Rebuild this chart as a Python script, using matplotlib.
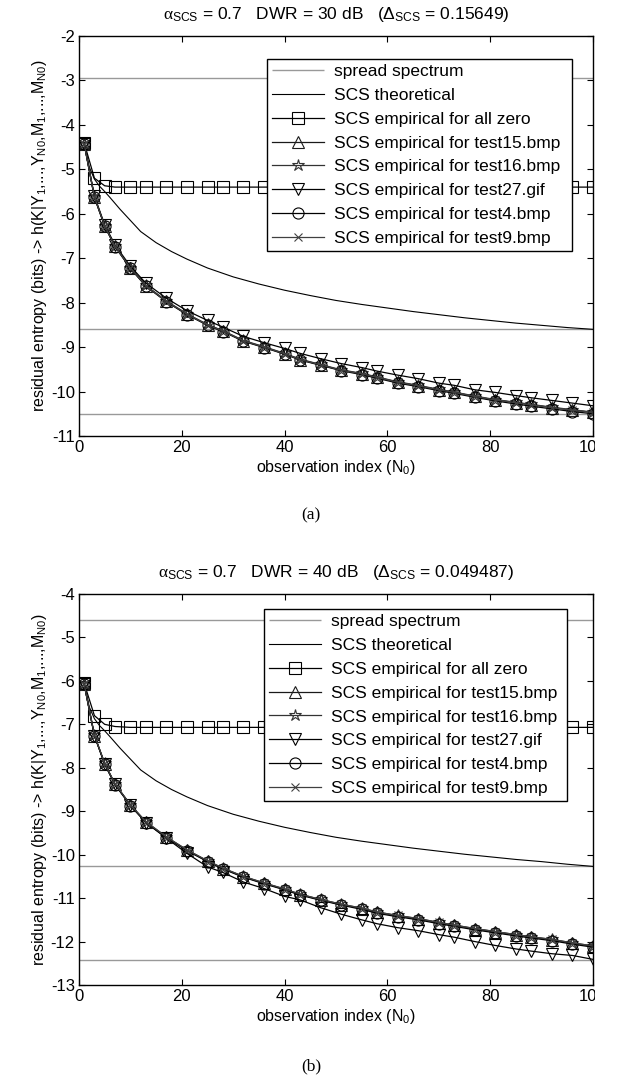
import matplotlib
matplotlib.use("Agg")
import matplotlib.pyplot as plt
from matplotlib.patches import Rectangle

plt.rcParams['font.family'] = ['Liberation Sans', 'DejaVu Sans']
plt.rcParams['mathtext.fontset'] = 'custom'
plt.rcParams['mathtext.rm'] = 'Liberation Sans'
plt.rcParams['mathtext.it'] = 'Liberation Serif'
plt.rcParams['mathtext.bf'] = 'Liberation Sans:bold'
plt.rcParams['axes.unicode_minus'] = False

# ---------------- data ----------------
N_emp = [1, 3, 5, 7, 10, 13, 17, 21, 25, 28, 32, 36, 40, 43, 47, 51, 55, 58,
         62, 66, 70, 73, 77, 81, 85, 88, 92, 96, 100]
N_theo = [1, 2, 3, 4, 5, 6, 8, 10, 12, 15, 18, 21, 25, 30, 35, 40, 45, 50,
          55, 60, 65, 70, 75, 80, 85, 90, 95, 100]
N_line = [0, 100]

# panel (a): DWR = 30 dB
a_spread_levels = [-2.95, -8.60, -10.50]
a_theo = [-4.40, -4.95, -5.22, -5.38, -5.50, -5.63, -5.90, -6.15, -6.40, -6.65,
          -6.85, -7.02, -7.22, -7.42, -7.58, -7.72, -7.84, -7.95, -8.04, -8.12,
          -8.20, -8.27, -8.34, -8.40, -8.46, -8.51, -8.56, -8.60]
a_zero = [-4.40, -5.20, -5.37, -5.40, -5.40, -5.40, -5.40, -5.40, -5.40, -5.40,
          -5.40, -5.40, -5.40, -5.40, -5.40, -5.40, -5.40, -5.40, -5.40, -5.40,
          -5.40, -5.40, -5.40, -5.40, -5.40, -5.40, -5.40, -5.40, -5.40]
a_test15 = [-4.42, -5.63, -6.28, -6.73, -7.22, -7.62, -7.97, -8.26, -8.50, -8.64,
            -8.86, -9.00, -9.15, -9.28, -9.40, -9.52, -9.60, -9.68, -9.79, -9.87,
            -9.96, -10.02, -10.11, -10.19, -10.25, -10.30, -10.36, -10.42, -10.47]
a_test16 = [-4.42, -5.62, -6.27, -6.72, -7.21, -7.61, -7.96, -8.25, -8.49, -8.63,
            -8.85, -8.99, -9.14, -9.27, -9.39, -9.51, -9.59, -9.67, -9.78, -9.86,
            -9.95, -10.01, -10.10, -10.18, -10.24, -10.29, -10.35, -10.41, -10.46]
a_test27 = [-4.42, -5.60, -6.25, -6.70, -7.18, -7.56, -7.90, -8.18, -8.40, -8.55,
            -8.76, -8.90, -9.03, -9.14, -9.26, -9.37, -9.46, -9.54, -9.63, -9.71,
            -9.81, -9.86, -9.96, -10.02, -10.09, -10.14, -10.20, -10.26, -10.32]
a_test4 = [-4.42, -5.63, -6.28, -6.74, -7.23, -7.63, -7.98, -8.27, -8.51, -8.65,
           -8.87, -9.01, -9.16, -9.29, -9.41, -9.53, -9.62, -9.70, -9.81, -9.89,
           -9.98, -10.04, -10.13, -10.21, -10.28, -10.33, -10.39, -10.45, -10.50]
a_test9 = [-4.42, -5.62, -6.27, -6.73, -7.22, -7.62, -7.97, -8.26, -8.50, -8.64,
           -8.86, -9.00, -9.15, -9.28, -9.40, -9.52, -9.60, -9.68, -9.79, -9.87,
           -9.96, -10.02, -10.11, -10.19, -10.25, -10.30, -10.36, -10.42, -10.47]

# panel (b): DWR = 40 dB
b_spread_levels = [-4.60, -10.27, -12.42]
b_theo = [-6.05, -6.60, -6.87, -7.03, -7.15, -7.28, -7.55, -7.80, -8.05, -8.30,
          -8.50, -8.67, -8.87, -9.07, -9.23, -9.37, -9.49, -9.60, -9.69, -9.77,
          -9.85, -9.92, -9.99, -10.05, -10.11, -10.16, -10.22, -10.27]
b_zero = [-6.05, -6.80, -7.00, -7.05, -7.07, -7.07, -7.07, -7.07, -7.07, -7.07,
          -7.07, -7.07, -7.07, -7.07, -7.07, -7.07, -7.07, -7.07, -7.07, -7.07,
          -7.07, -7.07, -7.07, -7.07, -7.07, -7.07, -7.07, -7.07, -7.07]
b_test15 = [-6.07, -7.26, -7.91, -8.38, -8.86, -9.25, -9.60, -9.90, -10.15, -10.32,
            -10.51, -10.66, -10.80, -10.92, -11.04, -11.15, -11.24, -11.33, -11.41, -11.48,
            -11.57, -11.63, -11.71, -11.78, -11.85, -11.90, -11.96, -12.04, -12.11]
b_test16 = [-6.07, -7.25, -7.90, -8.37, -8.85, -9.24, -9.59, -9.89, -10.14, -10.31,
            -10.50, -10.65, -10.79, -10.91, -11.03, -11.14, -11.23, -11.32, -11.40, -11.47,
            -11.56, -11.62, -11.70, -11.77, -11.84, -11.89, -11.95, -12.03, -12.10]
b_test27 = [-6.07, -7.26, -7.91, -8.38, -8.86, -9.26, -9.62, -9.97, -10.28, -10.41,
            -10.63, -10.78, -10.96, -11.04, -11.22, -11.37, -11.50, -11.59, -11.68, -11.75,
            -11.84, -11.90, -12.00, -12.09, -12.17, -12.22, -12.28, -12.32, -12.41]
b_test4 = [-6.07, -7.26, -7.92, -8.39, -8.87, -9.26, -9.61, -9.91, -10.16, -10.33,
           -10.52, -10.67, -10.81, -10.93, -11.05, -11.16, -11.26, -11.35, -11.43, -11.50,
           -11.59, -11.65, -11.73, -11.80, -11.87, -11.92, -11.98, -12.06, -12.13]
b_test9 = [-6.07, -7.25, -7.90, -8.37, -8.85, -9.24, -9.59, -9.89, -10.14, -10.31,
           -10.50, -10.65, -10.79, -10.91, -11.03, -11.14, -11.23, -11.32, -11.40, -11.47,
           -11.56, -11.62, -11.70, -11.77, -11.84, -11.89, -11.95, -12.03, -12.10]

labels = ['spread spectrum', 'SCS theoretical', 'SCS empirical for all zero',
          'SCS empirical for test15.bmp', 'SCS empirical for test16.bmp',
          'SCS empirical for test27.gif', 'SCS empirical for test4.bmp',
          'SCS empirical for test9.bmp']
markers = ['s', '^', '*', 'v', 'o', 'x']

x_ticks = [0, 20, 40, 60, 80, 100]
a_yticks = list(range(-11, -1))
b_yticks = list(range(-13, -3))

titles = [r'$\alpha_{\mathrm{SCS}}$ = 0.7   DWR = 30 dB   ($\Delta_{\mathrm{SCS}}$ = 0.15649)',
          r'$\alpha_{\mathrm{SCS}}$ = 0.7   DWR = 40 dB   ($\Delta_{\mathrm{SCS}}$ = 0.049487)']
ylabel = r'residual entropy (bits) -> h(K|Y$_1$,...,Y$_{\mathrm{N0}}$,M$_1$,...,M$_{\mathrm{N0}}$)'
xlabel = r'observation index (N$_0$)'
captions = ['(a)', '(b)']

# ---------------- figure ----------------
W, H = 622, 1082
fig = plt.figure(figsize=(W / 100, H / 100), dpi=100)

def px_axes(left, top, right, bottom):
    return fig.add_axes([left / W, 1 - bottom / H, (right - left) / W, (bottom - top) / H])

axA = px_axes(79, 36, 593, 436)
axB = px_axes(79, 594, 593, 985)

panels = [
    (axA, a_spread_levels, a_theo, [a_zero, a_test15, a_test16, a_test27, a_test4, a_test9],
     (-11, -2), a_yticks, (0.366, 0.546, 0.593, 0.943 - 0.546)),
    (axB, b_spread_levels, b_theo, [b_zero, b_test15, b_test16, b_test27, b_test4, b_test9],
     (-13, -4), b_yticks, (0.360, 0.526, 0.589, 0.962 - 0.526)),
]

emp_colors = ['black', '0.1', '0.2', 'black', 'black', '0.25']

for i, (ax, levels, theo, emps, ylim, yticks, lbox) in enumerate(panels):
    handles = []
    for k, lev in enumerate(levels):
        h, = ax.plot(N_line, [lev, lev], color='0.6', lw=1.0, solid_capstyle='butt')
        if k == 0:
            handles.append(h)
    h, = ax.plot(N_theo, theo, color='black', lw=0.8)
    handles.append(h)
    for series, m, c in zip(emps, markers, emp_colors):
        ms = 9 if m == '*' else (6 if m == 'x' else 8)
        h, = ax.plot(N_emp, series, color=c, lw=0.9, marker=m, markersize=ms,
                     markerfacecolor='none', markeredgecolor=c, markeredgewidth=0.8)
        handles.append(h)
    ax.set_xlim(0, 100)
    ax.set_ylim(*ylim)
    ax.set_xticks(x_ticks)
    ax.set_yticks(yticks)
    ax.tick_params(direction='in', length=4, width=0.8, top=True, right=True,
                   labelsize=12, pad=3)
    for s in ax.spines.values():
        s.set_linewidth(1.0)
    ax.set_title(titles[i], fontsize=12.5, pad=12)
    ax.set_xlabel(xlabel, fontsize=11.5, labelpad=2)
    ax.set_ylabel(ylabel, fontsize=11.5, labelpad=1)
    leg = ax.legend(handles, labels, loc='upper left', bbox_to_anchor=lbox,
                    mode='expand', fontsize=12.5, frameon=True, fancybox=False,
                    framealpha=1.0, handlelength=3.0, handletextpad=0.55,
                    labelspacing=0.5, borderpad=0.3, borderaxespad=0.0)
    leg.get_frame().set_edgecolor('black')
    leg.get_frame().set_linewidth(1.0)
    leg.set_zorder(10)

fig.text(311 / W, 1 - 515 / H, captions[0], ha='center', va='center',
         fontsize=12.5, family='Liberation Serif')
fig.text(311 / W, 1 - 1066 / H, captions[1], ha='center', va='center',
         fontsize=12.5, family='Liberation Serif')

# the reference image is cropped just right of the axes
fig.patches.append(Rectangle((595 / W, 0), 1, 1, transform=fig.transFigure,
                             facecolor='white', edgecolor='none', zorder=100))

fig.savefig('out.png', dpi=100)
